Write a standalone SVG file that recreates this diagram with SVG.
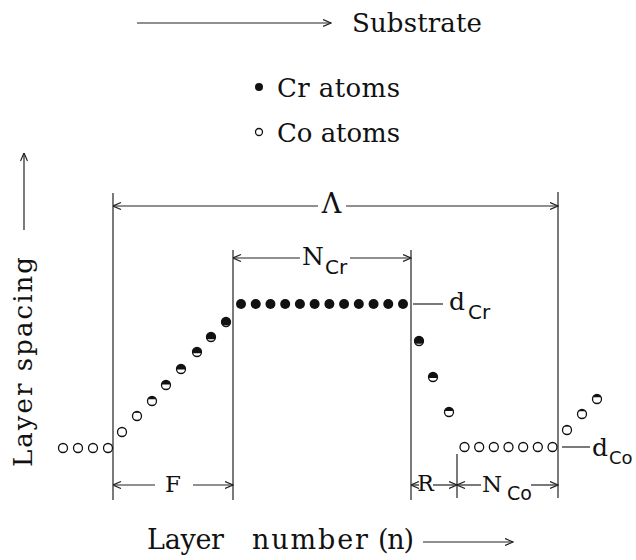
<svg xmlns="http://www.w3.org/2000/svg" width="636" height="560" viewBox="0 0 636 560">
<style>
.t{font-family:"DejaVu Serif","Liberation Serif",serif;fill:#111}
.s{font-family:"DejaVu Sans","Liberation Sans",sans-serif;fill:#111}
.ln{stroke:#222;stroke-width:1.2;fill:none}
.ar{stroke:#222;stroke-width:1.2;fill:none;marker-end:url(#arr)}
.cr{fill:#111}
.co{fill:#fff;stroke:#111;stroke-width:1.3}
.cap{fill:#111}
</style>
<defs>
<marker id="arr" viewBox="0 0 9 8" refX="8.5" refY="4" markerWidth="9" markerHeight="8" markerUnits="userSpaceOnUse" orient="auto">
<path d="M0.5,0.5 L8.5,4 L0.5,7.5" fill="none" stroke="#222" stroke-width="1.2"/>
</marker>
</defs>
<rect width="636" height="560" fill="#fff"/>

<g id="connectors">
<line class="ar" x1="137" y1="23" x2="331" y2="23"/>
<line class="ar" x1="24" y1="230" x2="24" y2="153"/>
<line class="ar" x1="423" y1="542" x2="513" y2="542"/>
<line class="ln" x1="113" y1="193" x2="113" y2="500"/>
<line class="ln" x1="558" y1="192" x2="558" y2="498"/>
<line class="ln" x1="233" y1="250" x2="233" y2="500"/>
<line class="ln" x1="411" y1="250" x2="411" y2="500"/>
<line class="ln" x1="457" y1="454" x2="457" y2="498"/>
<line class="ar" x1="318" y1="206" x2="113" y2="206"/>
<line class="ar" x1="346" y1="206" x2="558" y2="206"/>
<line class="ar" x1="300" y1="258" x2="233" y2="258"/>
<line class="ar" x1="350" y1="258" x2="411" y2="258"/>
<line class="ar" x1="155" y1="485" x2="113" y2="485"/>
<line class="ar" x1="193" y1="485" x2="233" y2="485"/>
<line class="ar" x1="419" y1="485" x2="411" y2="485"/>
<line class="ar" x1="433" y1="485" x2="457" y2="485"/>
<line class="ar" x1="481" y1="485" x2="457" y2="485"/>
<line class="ar" x1="531" y1="485" x2="558" y2="485"/>
<line class="ln" x1="413" y1="304" x2="443" y2="304"/>
<line class="ln" x1="562" y1="447" x2="590" y2="447"/>
</g>

<g id="substrate">
<text class="t" x="352" y="32" font-size="26" textLength="130" lengthAdjust="spacing">Substrate</text>
</g>

<g id="legend">
<circle class="cr" cx="259" cy="87" r="4"/>
<text class="t" x="277" y="97" font-size="26" textLength="123" lengthAdjust="spacing">Cr atoms</text>
<circle class="co" cx="259" cy="132" r="3.5" stroke-width="1.2"/>
<text class="t" x="277" y="142" font-size="26" textLength="123" lengthAdjust="spacing">Co atoms</text>
</g>

<g id="y-axis-label">
<text class="t" transform="translate(32,467) rotate(-90)" x="0" y="0" font-size="26" textLength="210" lengthAdjust="spacing">Layer spacing</text>
</g>

<g id="x-axis-label">
<text class="t" x="147" y="549" font-size="27" textLength="77" lengthAdjust="spacing">Layer</text>
<text class="t" x="252" y="549" font-size="27" textLength="116" lengthAdjust="spacing">number</text>
<text class="t" x="378" y="549" font-size="27" textLength="36" lengthAdjust="spacing">(n)</text>
</g>

<g id="lambda-label">
<text class="t" x="331.5" y="213" font-size="27" text-anchor="middle">Λ</text>
</g>

<g id="ncr-label">
<text class="t" x="302" y="265" font-size="25">N</text>
<text class="s" x="325" y="274" font-size="20">Cr</text>
</g>

<g id="f-label">
<text class="t" x="173" y="492" font-size="23" text-anchor="middle">F</text>
</g>

<g id="r-label">
<text class="t" x="425.5" y="491" font-size="22" text-anchor="middle">R</text>
</g>

<g id="nco-label">
<text class="t" x="482" y="492" font-size="23">N</text>
<text class="s" x="507" y="500" font-size="19">Co</text>
</g>

<g id="dcr-label">
<text class="t" x="449" y="310" font-size="25">d</text>
<text class="s" x="468" y="319" font-size="20">Cr</text>
</g>

<g id="dco-label">
<text class="t" x="592" y="456" font-size="25">d</text>
<text class="s" x="609" y="464" font-size="18">Co</text>
</g>

<g id="co-row-left">
<circle class="co" cx="63" cy="448" r="4.5"/>
<circle class="co" cx="78" cy="448" r="4.5"/>
<circle class="co" cx="93" cy="448" r="4.5"/>
<circle class="co" cx="108" cy="448" r="4.5"/>
</g>

<g id="rising-left">
<circle class="co" cx="122" cy="432" r="4.5"/>
<circle class="co" cx="137" cy="416" r="4.5"/>
<path class="cap" d="M133.79,412.85 A4.5,4.5 0 0 1 140.21,412.85 Z"/>
<circle class="co" cx="152" cy="401" r="4.5"/>
<path class="cap" d="M147.88,399.2 A4.5,4.5 0 0 1 156.12,399.2 Z"/>
<circle class="co" cx="166" cy="385" r="4.5"/>
<path class="cap" d="M161.52,384.55 A4.5,4.5 0 0 1 170.48,384.55 Z"/>
<circle class="co" cx="181" cy="369" r="4.5"/>
<path class="cap" d="M176.52,369.45 A4.5,4.5 0 1 1 185.48,369.45 Z"/>
<circle class="co" cx="197" cy="352" r="4.5"/>
<path class="cap" d="M192.71,353.35 A4.5,4.5 0 1 1 201.29,353.35 Z"/>
<circle class="co" cx="211" cy="337" r="4.5"/>
<path class="cap" d="M207.1,339.25 A4.5,4.5 0 1 1 214.9,339.25 Z"/>
<circle class="co" cx="226" cy="322" r="4.5"/>
<path class="cap" d="M222.79,325.15 A4.5,4.5 0 1 1 229.21,325.15 Z"/>
</g>

<g id="cr-row">
<circle class="cr" cx="241" cy="304" r="5"/>
<circle class="cr" cx="255.73" cy="304" r="5"/>
<circle class="cr" cx="270.45" cy="304" r="5"/>
<circle class="cr" cx="285.18" cy="304" r="5"/>
<circle class="cr" cx="299.91" cy="304" r="5"/>
<circle class="cr" cx="314.64" cy="304" r="5"/>
<circle class="cr" cx="329.36" cy="304" r="5"/>
<circle class="cr" cx="344.09" cy="304" r="5"/>
<circle class="cr" cx="358.82" cy="304" r="5"/>
<circle class="cr" cx="373.55" cy="304" r="5"/>
<circle class="cr" cx="388.27" cy="304" r="5"/>
<circle class="cr" cx="403" cy="304" r="5"/>
</g>

<g id="falling-right">
<circle class="co" cx="419" cy="341" r="4.5"/>
<path class="cap" d="M415.4,343.7 A4.5,4.5 0 1 1 422.6,343.7 Z"/>
<circle class="co" cx="433" cy="377" r="4.5"/>
<path class="cap" d="M428.59,377.9 A4.5,4.5 0 1 1 437.41,377.9 Z"/>
<circle class="co" cx="449" cy="412" r="4.5"/>
<path class="cap" d="M444.59,411.1 A4.5,4.5 0 0 1 453.41,411.1 Z"/>
</g>

<g id="co-row-right">
<circle class="co" cx="464.5" cy="447" r="4.5"/>
<circle class="co" cx="479.17" cy="447" r="4.5"/>
<circle class="co" cx="493.83" cy="447" r="4.5"/>
<circle class="co" cx="508.5" cy="447" r="4.5"/>
<circle class="co" cx="523.17" cy="447" r="4.5"/>
<circle class="co" cx="537.83" cy="447" r="4.5"/>
<circle class="co" cx="552.5" cy="447" r="4.5"/>
</g>

<g id="rising-right">
<circle class="co" cx="567" cy="430" r="4.5"/>
<path class="cap" d="M564.3,426.4 A4.5,4.5 0 0 1 569.7,426.4 Z"/>
<circle class="co" cx="582" cy="414" r="4.5"/>
<path class="cap" d="M578.4,411.3 A4.5,4.5 0 0 1 585.6,411.3 Z"/>
<circle class="co" cx="597" cy="399" r="4.5"/>
<path class="cap" d="M592.88,397.2 A4.5,4.5 0 0 1 601.12,397.2 Z"/>
</g>
</svg>
